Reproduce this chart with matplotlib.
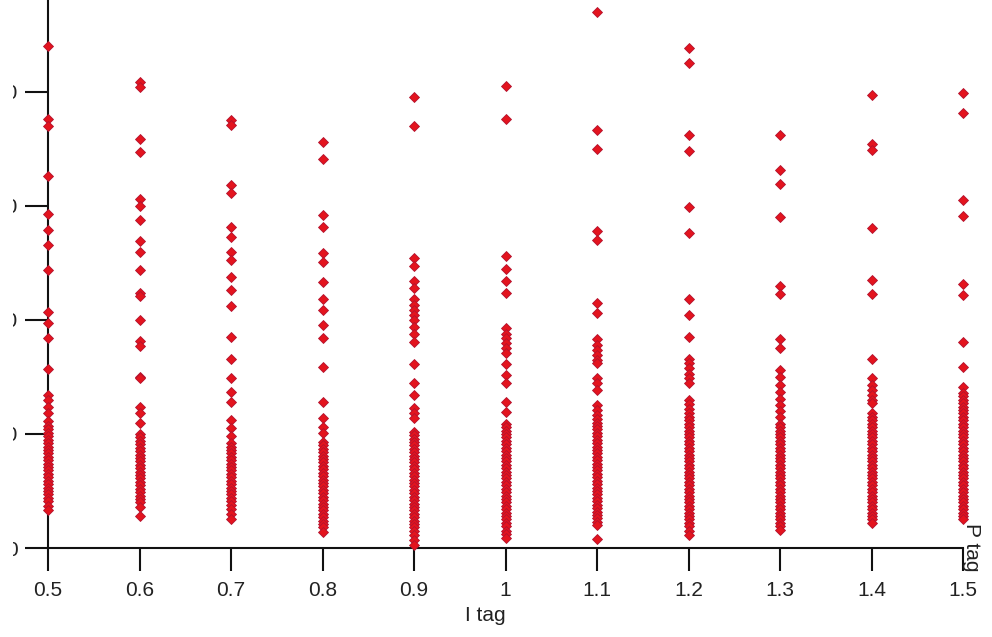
import matplotlib
matplotlib.use('Agg')
import matplotlib.pyplot as plt
from matplotlib.transforms import Bbox

plt.rcParams['font.family'] = ['Liberation Sans', 'DejaVu Sans']

# I tag categories and the P tag values
i_tags = [0.5, 0.6, 0.7, 0.8, 0.9, 1.0, 1.1, 1.2, 1.3, 1.4, 1.5]

p_05 = [44.0, 37.6, 37.0, 32.6, 29.3, 27.9, 26.6, 24.4, 20.7, 19.7, 18.4, 15.7,
        13.4, 13.0, 12.4, 11.8, 11.1, 10.7, 10.4, 10.1, 9.8, 9.5, 9.2, 8.9, 8.6,
        8.3, 8.0, 7.7, 7.4, 7.1, 6.8, 6.5, 6.2, 5.9, 5.6, 5.3, 5.0, 4.7, 4.4, 4.1,
        3.7, 3.35]
p_06 = [40.9, 40.4, 35.9, 34.7, 30.6, 30.0, 28.8, 26.9, 26.0, 24.4, 22.4, 22.1,
        20.0, 18.2, 17.7, 15.0, 14.9, 12.4, 11.8, 11.0, 10.0, 9.7, 9.4, 9.1, 8.8,
        8.5, 8.2, 7.9, 7.6, 7.3, 7.0, 6.7, 6.4, 6.1, 5.8, 5.5, 5.2, 4.9, 4.6, 4.3,
        4.0, 3.6, 2.8]
p_07 = [37.5, 37.1, 31.8, 31.1, 28.2, 27.3, 26.0, 25.3, 23.8, 22.6, 21.2, 18.5,
        16.6, 14.9, 13.7, 12.8, 11.2, 10.5, 9.8, 9.2, 8.9, 8.6, 8.3, 8.0, 7.7,
        7.4, 7.1, 6.8, 6.5, 6.2, 5.9, 5.6, 5.3, 5.0, 4.7, 4.4, 4.1, 3.8, 3.4, 3.0,
        2.5]
p_08 = [35.6, 34.1, 29.2, 28.2, 25.9, 25.1, 23.3, 21.8, 20.9, 19.6, 18.4, 15.9,
        12.8, 11.4, 10.6, 10.1, 9.3, 9.0, 8.7, 8.4, 8.1, 7.8, 7.5, 7.2, 6.9, 6.6,
        6.3, 6.0, 5.7, 5.4, 5.1, 4.8, 4.5, 4.2, 3.9, 3.6, 3.3, 3.0, 2.7, 2.4, 2.1,
        1.8, 1.4]
p_09 = [39.6, 37.0, 25.4, 24.7, 23.4, 22.8, 21.8, 21.3, 20.9, 20.4, 20.0, 19.4,
        18.8, 18.1, 16.1, 14.5, 13.4, 12.3, 11.8, 11.4, 10.2, 9.9, 9.6, 9.3, 9.0,
        8.7, 8.4, 8.1, 7.8, 7.5, 7.2, 6.9, 6.6, 6.3, 6.0, 5.7, 5.4, 5.1, 4.8, 4.5,
        4.2, 3.9, 3.6, 3.3, 3.0, 2.7, 2.4, 2.1, 1.8, 1.5, 1.1, 0.7, 0.3]
p_10 = [40.5, 37.6, 25.6, 24.5, 23.4, 22.4, 19.3, 18.8, 18.4, 18.0, 17.5, 17.1,
        16.1, 15.2, 14.5, 12.8, 11.9, 10.9, 10.6, 10.3, 10.0, 9.7, 9.4, 9.1, 8.8,
        8.5, 8.2, 7.9, 7.6, 7.3, 7.0, 6.7, 6.4, 6.1, 5.8, 5.5, 5.2, 4.9, 4.6, 4.3,
        4.0, 3.7, 3.4, 3.1, 2.8, 2.5, 2.2, 1.9, 1.5, 1.2, 0.85]
p_11 = [47.0, 36.7, 35.0, 27.8, 27.0, 21.5, 20.6, 18.3, 17.8, 17.4, 16.9, 16.5,
        16.2, 14.9, 14.5, 13.9, 12.5, 12.1, 11.7, 11.3, 11.0, 10.7, 10.4, 10.1,
        9.8, 9.5, 9.2, 8.9, 8.6, 8.3, 8.0, 7.7, 7.4, 7.1, 6.8, 6.5, 6.2, 5.9, 5.6,
        5.3, 5.0, 4.7, 4.4, 4.1, 3.8, 3.5, 3.2, 2.9, 2.6, 2.3, 2.0, 0.76]
p_12 = [43.9, 42.5, 36.2, 34.8, 29.9, 27.6, 21.8, 20.4, 18.5, 16.6, 16.2, 15.8,
        15.3, 14.9, 14.5, 13.0, 12.6, 12.2, 11.8, 11.5, 11.2, 10.9, 10.6, 10.3,
        10.0, 9.7, 9.4, 9.1, 8.8, 8.5, 8.2, 7.9, 7.6, 7.3, 7.0, 6.7, 6.4, 6.1, 5.8,
        5.5, 5.2, 4.9, 4.6, 4.3, 4.0, 3.7, 3.4, 3.1, 2.8, 2.5, 2.2, 1.9, 1.5, 1.1]
p_13 = [36.2, 33.2, 31.9, 29.0, 23.0, 22.3, 18.3, 17.5, 15.6, 15.0, 14.3, 13.7,
        13.1, 12.5, 12.0, 11.5, 10.9, 10.6, 10.3, 10.0, 9.7, 9.4, 9.1, 8.8, 8.5,
        8.2, 7.9, 7.6, 7.3, 7.0, 6.7, 6.4, 6.1, 5.8, 5.5, 5.2, 4.9, 4.6, 4.3, 4.0,
        3.7, 3.4, 3.1, 2.8, 2.5, 2.2, 1.9, 1.6]
p_14 = [39.7, 35.4, 34.9, 28.1, 23.5, 22.3, 16.6, 14.9, 14.3, 13.9, 13.4, 13.0,
        12.7, 11.8, 11.5, 11.2, 10.9, 10.6, 10.3, 10.0, 9.7, 9.4, 9.1, 8.8, 8.5,
        8.2, 7.9, 7.6, 7.3, 7.0, 6.7, 6.4, 6.1, 5.8, 5.5, 5.2, 4.9, 4.6, 4.3, 4.0,
        3.7, 3.4, 3.1, 2.8, 2.5, 2.2]
p_15 = [39.9, 38.2, 30.5, 29.1, 23.2, 22.2, 18.1, 15.9, 14.1, 13.6, 13.3, 13.0,
        12.7, 12.4, 12.1, 11.8, 11.5, 11.2, 10.9, 10.6, 10.3, 10.0, 9.7, 9.4, 9.1,
        8.8, 8.5, 8.2, 7.9, 7.6, 7.3, 7.0, 6.7, 6.4, 6.1, 5.8, 5.5, 5.2, 4.9, 4.6,
        4.3, 4.0, 3.7, 3.4, 3.1, 2.8, 2.5]

p_columns = [p_05, p_06, p_07, p_08, p_09, p_10, p_11, p_12, p_13, p_14, p_15]

y_ticks = [0, 10, 20, 30, 40]
x_tick_labels = ['0.5', '0.6', '0.7', '0.8', '0.9', '1', '1.1', '1.2', '1.3', '1.4', '1.5']

fig = plt.figure(figsize=(9.92, 6.37), dpi=100)
ax = fig.add_axes([48 / 992, 89 / 637, 915 / 992, 548 / 637])

for x, col in zip(i_tags, p_columns):
    ax.plot([x] * len(col), col, linestyle='none', marker='D', markersize=4.8,
            markerfacecolor='#e3141e', markeredgecolor='#b3122e',
            markeredgewidth=0.6, clip_on=False, zorder=3)

ax.set_xlim(0.5, 1.5)
ax.set_ylim(0, 48.07)

for side in ['top', 'right']:
    ax.spines[side].set_visible(False)
for side in ['left', 'bottom']:
    ax.spines[side].set_linewidth(1.5)
    ax.spines[side].set_color('#111111')

ax.set_xticks(i_tags)
ax.set_xticklabels(x_tick_labels)
ax.set_yticks(y_ticks)
ax.set_yticklabels([str(v) for v in y_ticks])
ax.tick_params(axis='both', direction='out', length=16.5, width=1.5,
               color='#111111', labelsize=15, labelcolor='#222222')
ax.tick_params(axis='x', pad=7)
ax.tick_params(axis='y', pad=5.5)

# the y labels are cut off by the left edge of the picture
clip = Bbox.from_extents(13, 0, 992, 637)
for lab in ax.get_yticklabels():
    lab.set_clip_on(True)
    lab.set_clip_box(clip)

ax.set_xlabel('I tag', fontsize=15, color='#222222')
ax.xaxis.set_label_coords((485 - 48) / 915, -0.105)

fig.text(972 / 992, 1 - 547 / 637, 'P tag', rotation=270, fontsize=15,
         color='#222222', ha='center', va='center')

fig.savefig('out.png', dpi=100)
